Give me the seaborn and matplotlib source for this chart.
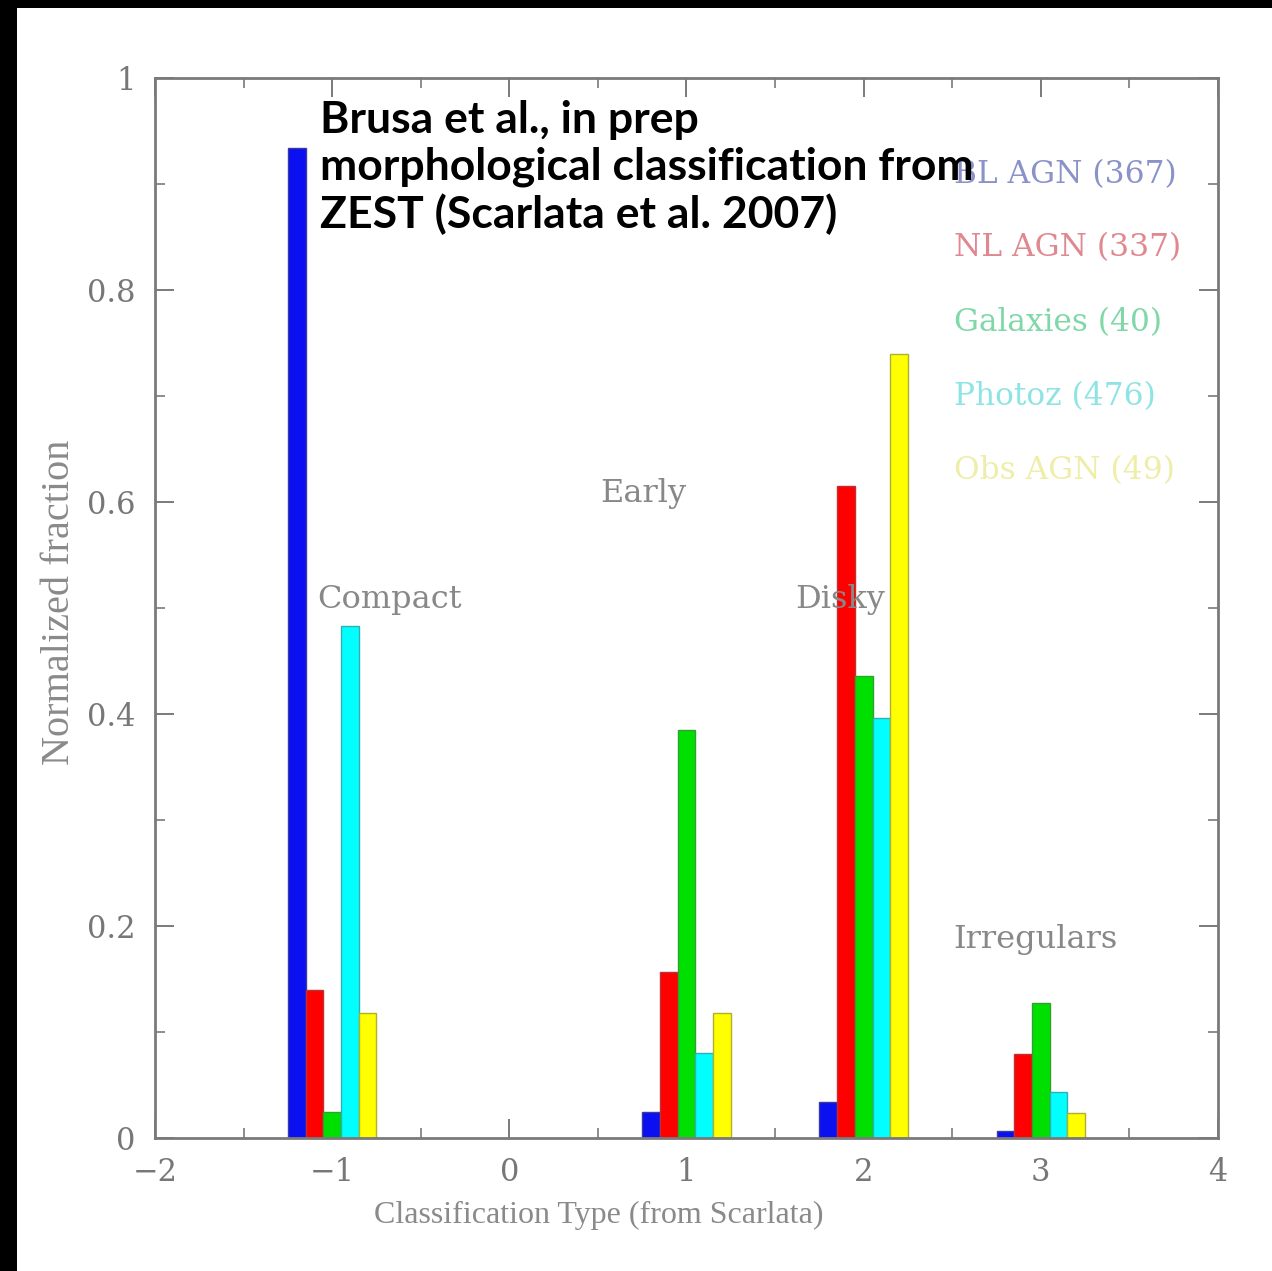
import numpy as np
import pandas as pd
import matplotlib
matplotlib.use("Agg")
import matplotlib.pyplot as plt
from matplotlib.patches import Rectangle
from matplotlib.ticker import MultipleLocator
import seaborn as sns

# Morphological class (ZEST type) and normalized fraction per sample
class_types = [-1, 1, 2, 3]
bl_agn   = [0.934, 0.025, 0.034, 0.007]
nl_agn   = [0.140, 0.157, 0.615, 0.079]
galaxies = [0.025, 0.385, 0.436, 0.127]
photoz   = [0.483, 0.080, 0.396, 0.043]
obs_agn  = [0.118, 0.118, 0.740, 0.024]

sample_names = ["BL AGN", "NL AGN", "Galaxies", "Photoz", "Obs AGN"]
sample_counts = [367, 337, 40, 476, 49]
bar_colors = ["#0a10f0", "#ff0000", "#00e000", "#00ffff", "#ffff00"]
edge_colors = ["#3a3aa0", "#c03030", "#30a030", "#30b0b0", "#b0b030"]
label_colors = ["#8a92c8", "#e08890", "#80d8a8", "#8ee4e4", "#eeeea8"]

class_labels = ["Compact", "Early", "Disky", "Irregulars"]
class_label_x = [-1.085, 0.514, 1.616, 2.508]
class_label_y = [0.508, 0.608, 0.508, 0.187]

rows = []
for name, vals in zip(sample_names, [bl_agn, nl_agn, galaxies, photoz, obs_agn]):
    for t, v in zip(class_types, vals):
        rows.append({"type": t, "fraction": v, "sample": name})
df = pd.DataFrame(rows)

sns.set_style("ticks")
plt.rcParams["font.family"] = ["DejaVu Serif"]

fig = plt.figure(figsize=(12.72, 12.71), dpi=100)
fig.patch.set_facecolor("white")
ax = fig.add_axes([0.1219, 0.1046, 0.8356, 0.834])

sns.barplot(data=df, x="type", y="fraction", hue="sample",
            hue_order=sample_names, palette=bar_colors,
            native_scale=True, width=0.5, dodge=True, errorbar=None,
            legend=False, saturation=1, ax=ax, linewidth=0)

# outline each bar in a darker shade of its fill
for container, ec in zip(ax.containers, edge_colors):
    for patch in container:
        patch.set_edgecolor(ec)
        patch.set_linewidth(1.0)

ax.set_xlim(-2, 4)
ax.set_ylim(0, 1)
ax.set_yticks([0, 0.2, 0.4, 0.6, 0.8, 1.0])
ax.set_yticklabels(["0", "0.2", "0.4", "0.6", "0.8", "1"])
ax.set_xticks([-2, -1, 0, 1, 2, 3, 4])
ax.set_xticklabels(["\u22122", "\u22121", "0", "1", "2", "3", "4"])
ax.xaxis.set_minor_locator(MultipleLocator(0.5))
ax.yaxis.set_minor_locator(MultipleLocator(0.1))

axis_gray = "#7a7a7a"
for s in ax.spines.values():
    s.set_visible(True)
    s.set_color(axis_gray)
    s.set_linewidth(2.0)
ax.tick_params(which="both", direction="in", top=True, right=True,
               color=axis_gray, labelcolor="#777777", labelsize=22)
ax.tick_params(which="major", length=14, width=1.4, pad=14)
ax.tick_params(which="minor", length=7, width=1.2)
ax.set_xlabel("")
ax.set_ylabel("")

# class annotations
for txt, x, y in zip(class_labels, class_label_x, class_label_y):
    ax.text(x, y, txt, color="#888888", fontsize=23, ha="left", va="center",
            zorder=5)

# sample labels with their counts
legend_x = 2.508
legend_y = [0.909, 0.840, 0.769, 0.700, 0.630]
for name, n, c, y in zip(sample_names, sample_counts, label_colors, legend_y):
    ax.text(legend_x, y, f"{name} ({n})", color=c, fontsize=22.5,
            ha="left", va="center", zorder=5)

fig.text(0.471, 0.044, "Classification Type (from Scarlata)",
         family="Liberation Serif", fontsize=23, color="#8a8a8a",
         ha="center", va="center")
fig.text(0.047, 0.526, "Normalized fraction", family="Liberation Serif",
         fontsize=29, color="#8a8a8a", rotation=90, ha="center", va="center")

fig.text(0.2516, 0.921,
         "Brusa et al., in prep\nmorphological classification from\nZEST (Scarlata et al. 2007)",
         family="Lato", fontweight="bold", fontsize=32, color="black",
         ha="left", va="top", linespacing=1.18, zorder=10)

# dark frame strips along the left and top edges
fig.patches.append(Rectangle((0, 0), 17 / 1272, 1, transform=fig.transFigure,
                             facecolor="black", edgecolor="none", zorder=20))
fig.patches.append(Rectangle((0, 1 - 8 / 1271), 1, 8 / 1271,
                             transform=fig.transFigure, facecolor="black",
                             edgecolor="none", zorder=20))

fig.savefig("out.png", dpi=100, facecolor="white")
